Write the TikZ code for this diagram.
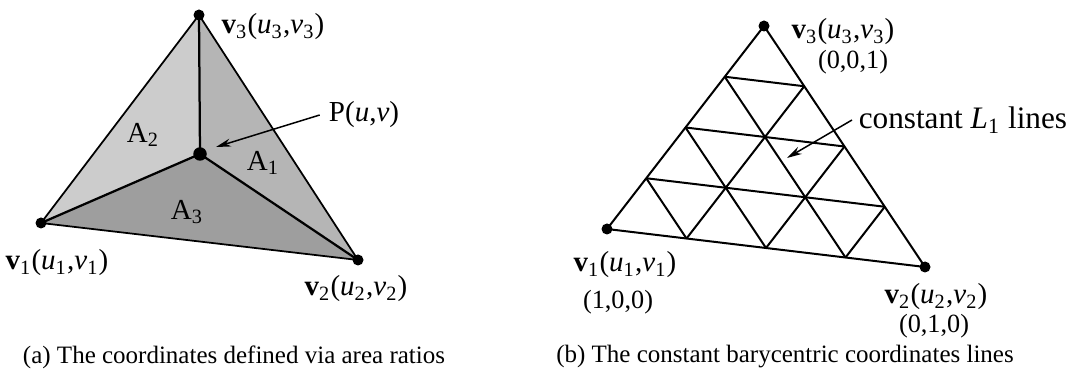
\documentclass[tikz,border=0pt]{standalone}
\usepackage{fontspec}
\setmainfont{Liberation Serif}
\usepackage{tikz}
\usetikzlibrary{arrows.meta, positioning, calc}
\definecolor{arealight}{gray}{0.80}
\definecolor{areamid}{gray}{0.71}
\definecolor{areadark}{gray}{0.62}
\newcommand{\vtxlabel}[1]{\textbf{v}\textsubscript{#1}(\textit{u}\textsubscript{#1},\textit{v}\textsubscript{#1})}

\begin{document}
\begin{tikzpicture}[
    x=0.4pt, y=-0.4pt,
    edge/.style={line width=0.7pt, black},
    spoke/.style={line width=0.9pt, black},
    vdot/.style={circle, fill=black, inner sep=0pt, minimum size=4.4pt},
    lbl/.style={inner sep=0pt, font=\fontsize{11.6pt}{13pt}\selectfont},
    coordlbl/.style={inner sep=0pt, font=\fontsize{10.5pt}{12pt}\selectfont},
    caption/.style={inner sep=0pt, font=\fontsize{10pt}{12pt}\selectfont},
    pointer/.style={-{Stealth[length=6pt, width=3.2pt]}, line width=0.6pt}
]
    \useasboundingbox (0,0) rectangle (1074,372);

    % --- (a) AREA RATIOS ---
    \coordinate (a1) at (41,223);
    \coordinate (a2) at (358,260);
    \coordinate (a3) at (199,15);
    \coordinate (ap) at (200,154);

    \fill[arealight] (a1) -- (a3) -- (ap) -- cycle;
    \fill[areamid] (ap) -- (a3) -- (a2) -- cycle;
    \fill[areadark] (a1) -- (ap) -- (a2) -- cycle;
    \draw[edge] (a1) -- (a2) -- (a3) -- cycle;
    \draw[spoke] (a1) -- (ap) -- (a2);
    \draw[spoke] (ap) -- (a3);

    \foreach \c in {a1,a2,a3}
        \node[vdot] (\c dot) at (\c) {};
    \node[vdot, minimum size=5.4pt] (apdot) at (ap) {};

    \node[lbl] (A1) at (263,163) {A\textsubscript{1}};
    \node[lbl] (A2) at (143,135) {A\textsubscript{2}};
    \node[lbl] (A3) at (187,212) {A\textsubscript{3}};

    \node[lbl] (a1lbl) at (57,263) {\vtxlabel{1}};
    \node[lbl] (a2lbl) at (356,289) {\vtxlabel{2}};
    \node[lbl] (a3lbl) at (273,27) {\vtxlabel{3}};

    \node[lbl, inner sep=3.5pt] (aplbl) at (364,115) {P(\textit{u},\textit{v})};
    \coordinate (aptip) at (216,147);
    \draw[pointer] (aplbl.west) -- (aptip);

    \node[caption] (capa) at (234,357) {(a) The coordinates defined via area ratios};

    % --- (b) BARYCENTRIC LINES ---
    \coordinate (b1) at (607,229);
    \coordinate (b2) at (925,267);
    \coordinate (b3) at (764,26);

    \draw[edge, line width=0.8pt] (b1) -- (b2) -- (b3) -- cycle;
    \foreach \i in {1,2,3} {
        \draw[edge, line width=0.8pt] ($(b1)!\i/4!(b3)$) -- ($(b2)!\i/4!(b3)$);
        \draw[edge, line width=0.8pt] ($(b1)!\i/4!(b3)$) -- ($(b1)!\i/4!(b2)$);
        \draw[edge, line width=0.8pt] ($(b2)!\i/4!(b3)$) -- ($(b2)!\i/4!(b1)$);
    }

    \foreach \c in {b1,b2,b3}
        \node[vdot] (\c dot) at (\c) {};

    \node[lbl] (b1lbl) at (625,265) {\vtxlabel{1}};
    \node[coordlbl] (b1bc) at (618,302) {(1,0,0)};
    \node[lbl] (b2lbl) at (936,297) {\vtxlabel{2}};
    \node[coordlbl] (b2bc) at (934,326) {(0,1,0)};
    \node[lbl] (b3lbl) at (843,32) {\vtxlabel{3}};
    \node[coordlbl] (b3bc) at (853,62) {(0,0,1)};

    \node[lbl, anchor=west, inner sep=2.5pt, font=\fontsize{12.5pt}{14pt}\selectfont] (constlbl) at (852,120) {constant \textit{L}\textsubscript{1} lines};
    \coordinate (btip) at (787,158);
    \draw[pointer] (constlbl.west) -- (btip);

    \node[caption] (capb) at (785,357) {(b) The constant barycentric coordinates lines};

\end{tikzpicture}
\end{document}
